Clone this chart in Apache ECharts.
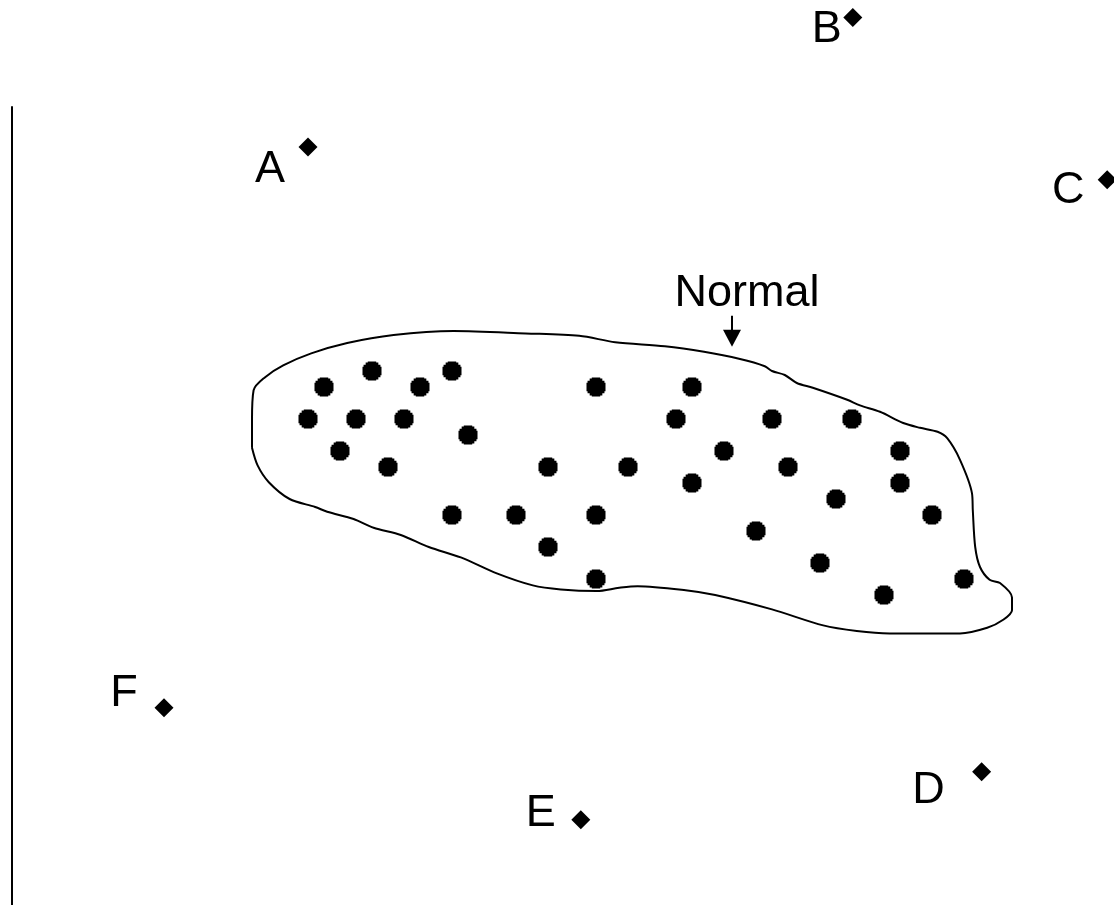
<!DOCTYPE html>
<html>
<head>
<meta charset="utf-8">
<style>
  html, body { margin: 0; padding: 0; background: #fff; }
  #chart { width: 1114px; height: 905px; }
</style>
<script src="https://cdn.jsdelivr.net/npm/echarts@6/dist/echarts.min.js"></script>
</head>
<body>
<div id="chart"></div>
<script>
// ---- data ----
const normalPoints = [
  [45, 64], [55, 64],
  [39, 62], [51, 62], [73, 62], [85, 62],
  [37, 58], [43, 58], [49, 58], [83, 58], [95, 58], [105, 58],
  [57, 56],
  [41, 54], [89, 54], [111, 54],
  [47, 52], [67, 52], [77, 52], [97, 52],
  [85, 50], [111, 50],
  [103, 48],
  [55, 46], [63, 46], [73, 46], [115, 46],
  [93, 44],
  [67, 42],
  [101, 40],
  [73, 38], [119, 38],
  [109, 36]
];

const outlierNames = ['A', 'B', 'C', 'D', 'E', 'F'];
const outlierX = [37, 105.1, 136.9, 121.2, 71.1, 19];
const outlierY = [92, 108.2, 87.9, 13.9, 7.9, 21.9];

const boundary = [
  [30, 54.4], [30, 57.9], [30.2, 61.6], [31.6, 63.2], [33.9, 64.7], [37.4, 66.2],
  [41.9, 67.5], [47.7, 68.5], [55.2, 69], [64.2, 68.7], [70.9, 68.4], [75.4, 67.6],
  [81.6, 67.1], [86.5, 66.4], [91, 65.5], [94.1, 64.6], [95, 64], [96.6, 63.5],
  [98.1, 62.5], [100.1, 61.9], [104.4, 60.4], [106, 59.7], [108.5, 58.9], [111.4, 57.5],
  [113.5, 56.9], [115.7, 56.4], [116.9, 55.6], [118.5, 52.9], [120, 48.7], [120.1, 46.6],
  [120.4, 42], [121, 39.5], [122.2, 37.9], [123.5, 37.5], [125, 35.7], [125, 34.1],
  [123.9, 32.9], [121.9, 31.9], [118.5, 31.2], [114.7, 31.2], [109.7, 31.2], [105.6, 31.5],
  [101.4, 32.2], [95, 34.2], [87.9, 36], [84.2, 36.6], [78.2, 37.1], [75.9, 36.9],
  [73.1, 36.5], [68.6, 36.7], [65.1, 37.2], [60.6, 38.7], [56.1, 40.7], [52.1, 42],
  [48.6, 43.5], [45.2, 44.4], [42.7, 45.5], [39.4, 46.4], [37.9, 47], [34.7, 48],
  [32.1, 50.1], [30.7, 52.2], [30, 54.4]
];

const normalLabel = 'Normal';
const arrowStart = [90, 70.9];
const arrowEnd = [90, 68.1];

// ---- styles ----
const FONT = "'Liberation Sans', Arial, Helvetica, sans-serif";
const labelOffsets = [[-38, 23], [-26, 12], [-39, 11], [-53, 19], [-40, -6], [-40, -14]];
const dotPath = 'path://M5,0H13V1H15V3H17V5H18V13H17V15H15V17H13V18H5V17H3V15H1V13H0V5H1V3H3V1H5Z';

const outlierData = outlierNames.map((n, i) => ({
  name: n,
  value: [outlierX[i], outlierY[i]],
  label: { offset: labelOffsets[i] }
}));

const chart = echarts.init(document.getElementById('chart'), null, { renderer: 'canvas' });
chart.setOption({
  animation: false,
  backgroundColor: '#ffffff',
  grid: { left: 12, right: 14, top: 107, bottom: 0, containLabel: false },
  xAxis: {
    type: 'value', min: 0, max: 136,
    show: false,
    splitLine: { show: false }
  },
  yAxis: {
    type: 'value', min: -2.75, max: 97,
    axisLine: { show: true, lineStyle: { color: '#000', width: 2 } },
    axisTick: { show: false },
    axisLabel: { show: false },
    splitLine: { show: false }
  },
  series: [
    {
      type: 'line',
      name: 'boundary',
      data: boundary,
      smooth: 0.3,
      symbol: 'none',
      lineStyle: { color: '#000', width: 2 },
      silent: true,
      clip: false,
      z: 1
    },
    {
      type: 'scatter',
      name: 'normal',
      data: normalPoints,
      symbol: dotPath,
      symbolSize: 19,
      itemStyle: { color: '#000', opacity: 1 },
      silent: true,
      z: 3,
      markLine: {
        silent: true,
        symbol: ['none', 'triangle'],
        symbolSize: [18, 17],
        lineStyle: { color: '#000', width: 2, type: 'solid', opacity: 1 },
        label: {
          show: true,
          position: 'start',
          formatter: normalLabel,
          color: '#000',
          fontSize: 45,
          fontFamily: FONT,
          distance: 0,
          offset: [15, 0]
        },
        emphasis: { disabled: true },
        data: [[{ coord: arrowStart }, { coord: arrowEnd }]]
      }
    },
    {
      type: 'scatter',
      name: 'outliers',
      data: outlierData,
      symbol: 'diamond',
      symbolSize: [19, 19],
      itemStyle: { color: '#000', opacity: 1 },
      clip: false,
      silent: true,
      z: 3,
      label: {
        show: true,
        position: 'inside',
        formatter: '{b}',
        color: '#000',
        fontSize: 45,
        fontFamily: FONT,
        align: 'center',
        verticalAlign: 'middle'
      }
    }
  ]
});
</script>
</body>
</html>
